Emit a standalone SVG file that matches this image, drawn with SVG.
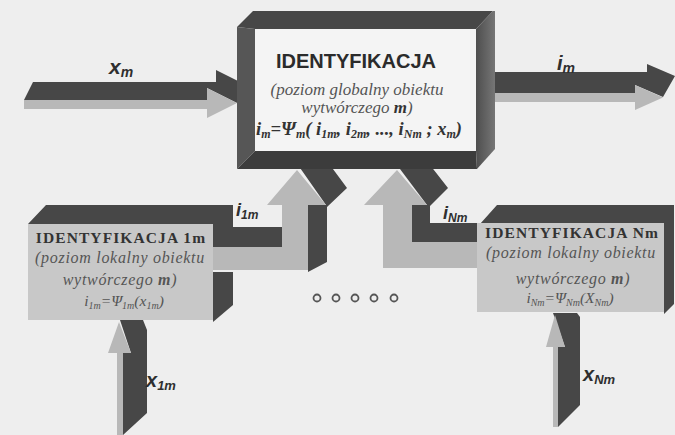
<svg xmlns="http://www.w3.org/2000/svg" width="675" height="435" viewBox="0 0 675 435">
  <defs>
    <style>
      .bg{fill:#eeeeee}
      .dk{fill:#474747}
      .dk2{fill:#3c3c3c}
      .dk3{fill:#565656}
      .lt{fill:#b8b8b8}
      .pnl{fill:#c8c8c8}
      .gpnl{fill:#f4f4f4}
      .lbl{font-family:"Liberation Sans",Arial,sans-serif;font-weight:bold;font-style:italic;fill:#2f2f2f}
      .hd{font-family:"Liberation Sans",Arial,sans-serif;font-weight:bold;fill:#2b2b2b;text-anchor:middle}
      .sr{font-family:"Liberation Serif","Times New Roman",serif;font-style:italic;fill:#555555;text-anchor:middle}
      .srb{font-family:"Liberation Serif","Times New Roman",serif;font-weight:bold;fill:#333333;text-anchor:middle}
      .loc{font-size:16px;letter-spacing:0.7px}
      .dot{fill:none;stroke:#555555;stroke-width:1.8}
    </style>
    <linearGradient id="rband" x1="0" x2="1" y1="0" y2="0">
      <stop offset="0" stop-color="#4e4e4e"/>
      <stop offset="1" stop-color="#767676"/>
    </linearGradient>
  </defs>

  <rect class="bg" x="0" y="0" width="675" height="435"/>

  <!-- connectors: extruded block arrows (dark side faces, light front faces) -->
  <g id="connectors">
    <!-- x_m into the global block -->
    <g id="arrow-xm">
      <polygon class="dk" points="24,100 33,82 216,82 216,70 246,85 237,103 207,88 207,100"/>
      <polygon class="lt" points="24,100 207,100 207,88 237,103 207,118 207,109 24,109"/>
      <text class="lbl" x="109" y="74" font-size="21">x<tspan font-size="14" dy="3">m</tspan></text>
    </g>
    <!-- i_m out of the global block -->
    <g id="arrow-im">
      <polygon class="dk" points="480,93 480,72 647,72 647,64 675,76 663,97 635,85 635,93"/>
      <polygon class="lt" points="478,93 635,93 635,85 663,97.5 635,110 635,102 478,102"/>
      <text class="lbl" x="557" y="70" font-size="20">i<tspan font-size="14" dy="3">m</tspan></text>
    </g>
    <!-- i_1m elbow from local block 1m up to the global block -->
    <g id="arrow-i1m">
      <polygon class="dk" points="213,227 282,227 282,247 213,247"/>
      <polygon class="dk" points="298,165 330,165 347,188 327,207 327,262 308,272 308,205 326,205"/>
      <polygon class="lt" points="213,247 282,247 282,205 267,205 297,170 326,205 308,205 308,270 213,270"/>
      <text class="lbl" x="236" y="216" font-size="18">i<tspan font-size="12" dy="3">1m</tspan></text>
    </g>
    <!-- i_Nm elbow from local block Nm up to the global block -->
    <g id="arrow-iNm">
      <polygon class="dk" points="397,165 430,165 448,188 430,206 430,223 477,223 477,242 412,242 412,205 427,205"/>
      <polygon class="lt" points="364,205 397,170 427,205 412,205 412,242 477,242 477,268 383,268 383,205"/>
      <text class="lbl" x="443" y="219" font-size="18">i<tspan font-size="12" dy="3">Nm</tspan></text>
    </g>
    <!-- x_1m into local block 1m -->
    <g id="arrow-x1m">
      <polygon class="dk" points="123,435 147,413 147,330 143,320 120,320 131,353 123,353"/>
      <polygon class="lt" points="117,435 117,353 108,353 119,322 131,353 123,353 123,435"/>
      <text class="lbl" x="146" y="387" font-size="20">x<tspan font-size="13" dy="3">1m</tspan></text>
    </g>
    <!-- x_Nm into local block Nm -->
    <g id="arrow-xNm">
      <polygon class="dk" points="558,427 580,405 580,317 577,313 553,313 565,347 558,347"/>
      <polygon class="lt" points="553,427 553,347 546,347 555,315 565,347 558,347 558,427"/>
      <text class="lbl" x="583" y="381" font-size="20">x<tspan font-size="13" dy="3">Nm</tspan></text>
    </g>
  </g>

  <!-- global identification block -->
  <g id="node-global">
    <polygon class="dk" points="237,27 253,11 493,11 476,29 255,29"/>
    <polygon class="dk3" points="237,27 255,29 255,151 237,169"/>
    <polygon class="dk2" points="237,169 255,151 476,151 477,169"/>
    <polygon fill="url(#rband)" points="476,29 493,11 495,11 495,149 477,169 476,151"/>
    <rect class="gpnl" x="255" y="29" width="221" height="122"/>
    <text class="hd" x="356" y="68" font-size="20">IDENTYFIKACJA</text>
    <text class="sr" x="357" y="95" font-size="17">(poziom globalny obiektu</text>
    <text class="sr" x="357" y="113" font-size="17">wytwórczego <tspan font-weight="bold" fill="#333333">m</tspan>)</text>
    <text class="srb" x="359" y="135" font-size="18.5" font-style="italic">i<tspan font-size="12" dy="3">m</tspan><tspan dy="-3">=Ψ</tspan><tspan font-size="12" dy="3">m</tspan><tspan dy="-3">( i</tspan><tspan font-size="12" dy="3">1m</tspan><tspan dy="-3">, i</tspan><tspan font-size="12" dy="3">2m</tspan><tspan dy="-3">, ..., i</tspan><tspan font-size="12" dy="3">Nm</tspan><tspan dy="-3"> ; x</tspan><tspan font-size="12" dy="3">m</tspan><tspan dy="-3">)</tspan></text>
  </g>

  <!-- local identification block 1m -->
  <g id="node-local-1m">
    <polygon class="dk" points="28,224 46,205 233,205 233,247 213,247 213,224"/>
    <polygon class="dk" points="213,272 233,272 233,305 213,322"/>
    <rect class="pnl" x="28" y="224" width="185" height="96"/>
    <text class="srb" x="121" y="243" font-size="15.5" letter-spacing="1.1">IDENTYFIKACJA 1m</text>
    <text class="sr loc" x="120" y="263">(poziom lokalny obiektu</text>
    <text class="sr loc" x="120" y="285">wytwórczego <tspan font-weight="bold">m</tspan>)</text>
    <text class="sr" x="124" y="306" font-size="15.5">i<tspan font-size="10" dy="3">1m</tspan><tspan dy="-3">=Ψ</tspan><tspan font-size="10" dy="3">1m</tspan><tspan dy="-3">(x</tspan><tspan font-size="10" dy="3">1m</tspan><tspan dy="-3">)</tspan></text>
  </g>

  <!-- local identification block Nm -->
  <g id="node-local-Nm">
    <polygon class="dk" points="480,224 497,205 674,205 674,304 664,314 664,224"/>
    <rect class="pnl" x="477" y="223" width="187" height="89"/>
    <text class="srb" x="572" y="238" font-size="15.5" letter-spacing="1.1">IDENTYFIKACJA Nm</text>
    <text class="sr loc" x="571" y="258">(poziom lokalny obiektu</text>
    <text class="sr loc" x="573" y="284">wytwórczego <tspan font-weight="bold">m</tspan>)</text>
    <text class="sr" x="570" y="303" font-size="15.5">i<tspan font-size="10" dy="3">Nm</tspan><tspan dy="-3">=Ψ</tspan><tspan font-size="10" dy="3">Nm</tspan><tspan dy="-3">(X</tspan><tspan font-size="10" dy="3">Nm</tspan><tspan dy="-3">)</tspan></text>
  </g>

  <!-- ellipsis of further local blocks -->
  <g id="ellipsis">
    <circle class="dot" cx="317" cy="298" r="3.5"/>
    <circle class="dot" cx="336" cy="298" r="3.5"/>
    <circle class="dot" cx="355" cy="298" r="3.5"/>
    <circle class="dot" cx="374" cy="298" r="3.5"/>
    <circle class="dot" cx="394" cy="298" r="3.5"/>
  </g>
</svg>
